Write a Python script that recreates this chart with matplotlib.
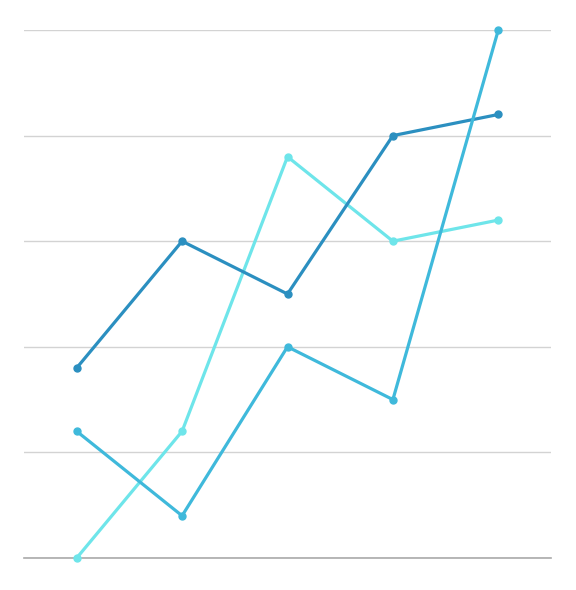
import matplotlib.pyplot as plt

# categories and series values
categories = ['A', 'B', 'C', 'D', 'E']
light_vals = [0, 12, 38, 30, 32]
dark_vals = [18, 30, 25, 40, 42]
mid_vals = [12, 4, 20, 15, 50]

fig = plt.figure(figsize=(5.76, 5.9), dpi=100)
ax = fig.add_axes([24 / 576, 32 / 590, 527 / 576, 528 / 590])

x = range(len(categories))
ax.plot(x, light_vals, color='#6ee5ea', lw=2.3, marker='o', ms=5, zorder=3, clip_on=False)
ax.plot(x, dark_vals, color='#2b8fc0', lw=2.3, marker='o', ms=5, zorder=4, clip_on=False)
ax.plot(x, mid_vals, color='#3fb9db', lw=2.3, marker='o', ms=5, zorder=5, clip_on=False)

ax.set_xlim(-0.5, 4.5)
ax.set_ylim(0, 50)
ax.set_yticks([0, 10, 20, 30, 40, 50])
ax.grid(axis='y', color='#d3d3d3', lw=1)
ax.set_axisbelow(True)
for s in ['top', 'right', 'left']:
    ax.spines[s].set_visible(False)
ax.spines['bottom'].set_color('#aaaaaa')
ax.spines['bottom'].set_linewidth(1.2)
ax.tick_params(left=False, bottom=False, labelleft=False, labelbottom=False)

fig.savefig('out.png', dpi=100)
